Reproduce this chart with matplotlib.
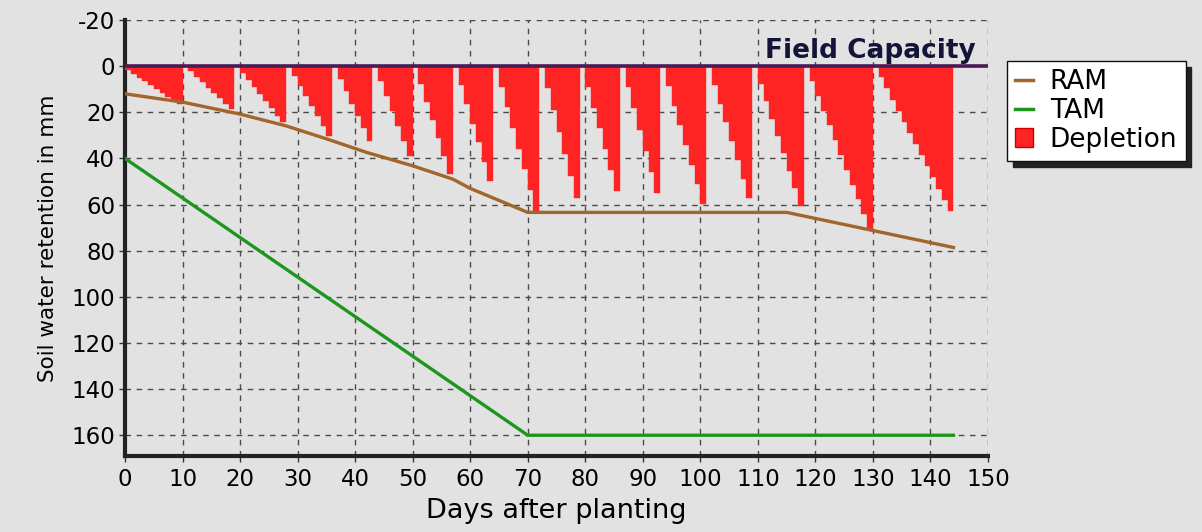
import matplotlib
matplotlib.use("Agg")
import matplotlib.pyplot as plt
from matplotlib.lines import Line2D
from matplotlib.patches import Patch
import numpy as np

# Daily soil-water depletion below field capacity (mm), days 1..144
depletion_mm = [
    1.7, 3.3, 5.0, 6.6, 8.3, 9.9, 11.6, 13.2, 14.9, 16.5,          # days 1-10
    0.0,
    2.3, 4.7, 7.0, 9.3, 11.6, 14.0, 16.3, 18.6,                     # days 12-19
    0.0,
    3.1, 6.1, 9.2, 12.2, 15.3, 18.3, 21.4, 24.4,                    # days 21-28
    0.0,
    4.3, 8.6, 12.9, 17.3, 21.6, 25.9, 30.2,                         # days 30-36
    0.0,
    5.4, 10.8, 16.2, 21.6, 27.0, 32.4,                              # days 38-43
    0.0,
    6.5, 13.0, 19.5, 25.9, 32.4, 38.9,                              # days 45-50
    0.0,
    7.8, 15.6, 23.4, 31.2, 39.0, 46.8,                              # days 52-57
    0.0,
    8.3, 16.6, 24.9, 33.1, 41.4, 49.7,                              # days 59-64
    0.0,
    9.0, 17.9, 26.9, 35.8, 44.8, 53.7, 62.7,                        # days 66-72
    0.0,
    9.5, 19.0, 28.5, 38.0, 47.5, 57.0,                              # days 74-79
    0.0,
    9.0, 18.0, 27.0, 36.0, 45.0, 54.0,                              # days 81-86
    0.0,
    9.2, 18.3, 27.5, 36.7, 45.8, 55.0,                              # days 88-93
    0.0,
    8.5, 17.1, 25.6, 34.2, 42.7, 51.3, 59.8,                        # days 95-101
    0.0,
    8.1, 16.3, 24.4, 32.6, 40.7, 48.9, 57.0,                        # days 103-109
    0.0,
    7.6, 15.1, 22.7, 30.3, 37.8, 45.4, 52.9, 60.5,                  # days 111-118
    0.0,
    6.4, 12.9, 19.3, 25.7, 32.1, 38.6, 45.0, 51.4, 57.8, 64.3, 70.7,  # days 120-130
    0.0,
    4.8, 9.6, 14.5, 19.3, 24.1, 28.9, 33.8, 38.6, 43.4, 48.2, 53.1, 57.9, 62.7,  # days 132-144
]
days = list(range(1, len(depletion_mm) + 1))

# Readily available moisture (RAM) and total available moisture (TAM)
ram_days = [0, 10, 20, 28, 35, 42, 50, 57, 60, 70, 115, 144]
ram_mm = [12.0, 15.6, 20.8, 25.9, 31.5, 37.4, 43.2, 49.0, 53.0, 63.4, 63.4, 78.6]
tam_days = [0, 70, 144]
tam_mm = [40.0, 160.0, 160.0]

x_ticks = list(range(0, 151, 10))
y_ticks = list(range(-20, 161, 20))

BG = "#e2e2e2"
plt.rcParams["font.family"] = ["DejaVu Sans"]
plt.rcParams["axes.unicode_minus"] = False

fig = plt.figure(figsize=(12.02, 5.32), dpi=100, facecolor=BG)
ax = fig.add_axes([125 / 1202, 1 - 456 / 532, (988 - 125) / 1202, (456 - 20) / 532])
ax.set_facecolor(BG)

# Depletion bars hang down from field capacity
ax.bar(np.array(days) - 1, depletion_mm, width=1.0, align="edge",
       color="#ff2424", edgecolor="#ff2424", linewidth=0.3, zorder=3)

# Field capacity reference line
ax.axhline(0, color="#4a1a55", linewidth=2.6, zorder=4)
ax.text(147.8, -1.0, "Field Capacity", ha="right", va="bottom",
        fontsize=19, fontweight="bold", color="#141438", zorder=5)

ax.plot(ram_days, ram_mm, color="#a2652b", linewidth=2.4, zorder=5)
ax.plot(tam_days, tam_mm, color="#1e961e", linewidth=2.4, zorder=5)

ax.set_xlim(0, 150)
ax.set_ylim(169, -20)
ax.set_xticks(x_ticks)
ax.set_yticks(y_ticks)
ax.tick_params(axis="both", labelsize=16.5, length=4, width=1, color="#333333")
ax.tick_params(axis="y", pad=3)
ax.tick_params(axis="x", pad=5)

ax.grid(True, color="#4a4a4a", linestyle=(0, (4, 4)), linewidth=1.0, zorder=1)
ax.set_axisbelow(True)
for side in ("top", "right"):
    ax.spines[side].set_visible(False)
for side in ("left", "bottom"):
    ax.spines[side].set_linewidth(3)
    ax.spines[side].set_color("#222222")

ax.set_xlabel("Days after planting", fontsize=19.5, labelpad=5)
ax.set_ylabel("Soil water retention in mm", fontsize=15.5, labelpad=10)

handles = [
    Line2D([0], [0], color="#a2652b", linewidth=2.5),
    Line2D([0], [0], color="#1e961e", linewidth=2.5),
    Patch(facecolor="#ff2424", edgecolor="#cc0000"),
]
leg = fig.legend(handles, ["RAM", "TAM", "Depletion"],
                 loc="upper left", bbox_to_anchor=(1007 / 1202, 1 - 61 / 532),
                 bbox_transform=fig.transFigure, borderaxespad=0,
                 fontsize=19, handlelength=0.65, handletextpad=0.65,
                 labelspacing=0.1, borderpad=0.32, fancybox=False,
                 framealpha=1, edgecolor="#111111",
                 shadow={"color": "#222222", "alpha": 1.0, "ox": 4, "oy": -4})
leg.get_frame().set_linewidth(1.0)

fig.savefig("out.png", dpi=100, facecolor=BG)
